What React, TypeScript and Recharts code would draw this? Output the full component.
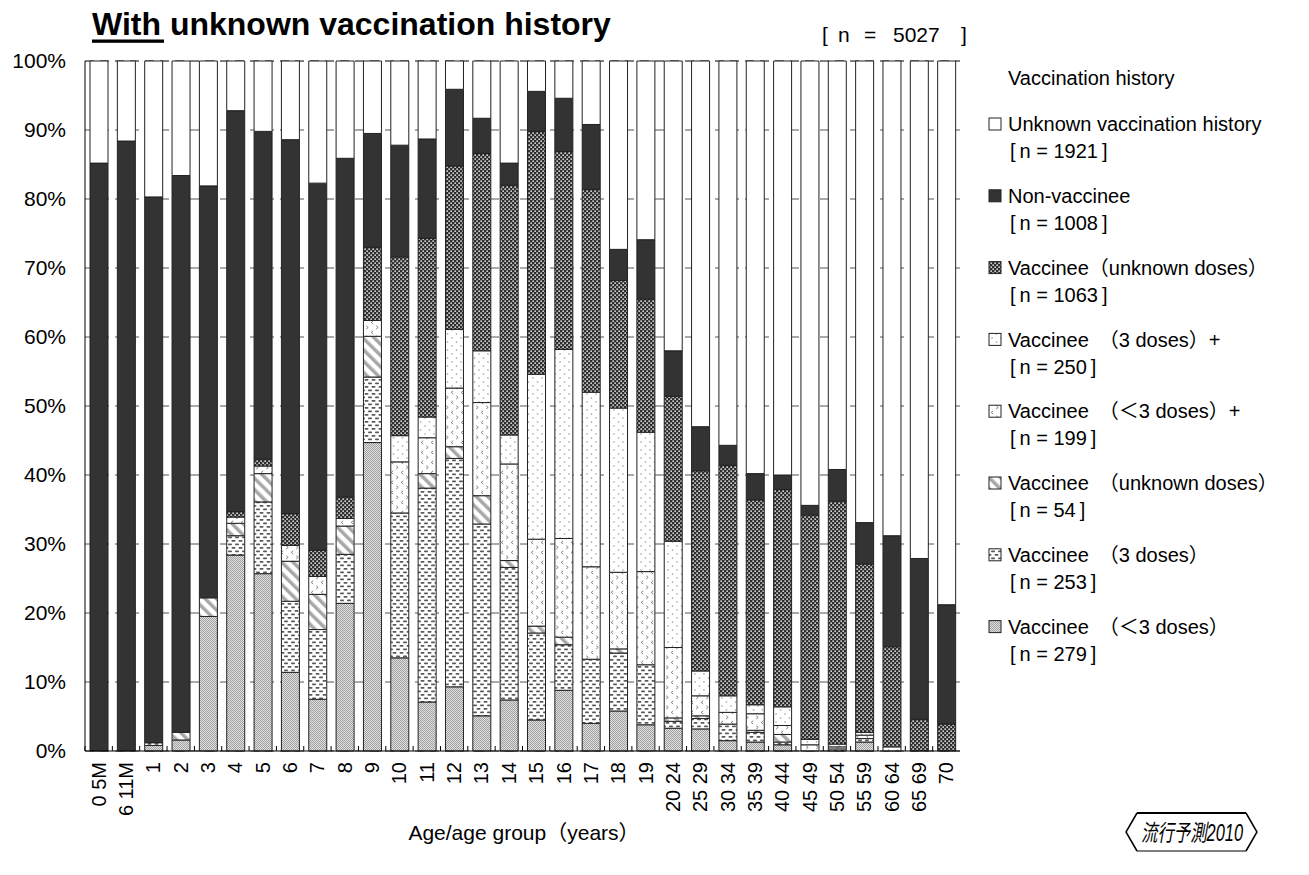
import React from 'react';
import { BarChart, Bar, XAxis, YAxis, CartesianGrid } from 'recharts';

const categories = ["0 5M","6 11M","1","2","3","4","5","6","7","8","9","10","11","12","13","14","15","16","17","18","19","20 24","25 29","30 34","35 39","40 44","45 49","50 54","55 59","60 64","65 69","70"];

// percentages, bottom of stack first
const vacLt3 =      [0,0,0.8,1.6,19.5,28.4,25.7,11.4,7.5,21.4,44.7,13.5,7.1,9.3,5.1,7.4,4.5,8.8,4.0,5.8,3.8,3.3,3.2,1.5,1.3,0.9,0,0,1.3,0,0,0];
const vac3 =        [0,0,0.4,0,0,2.8,10.4,10.3,10.1,7.1,9.5,21.0,31.0,33.1,27.8,19.2,12.6,6.6,9.3,8.4,8.7,1.0,1.5,2.4,1.4,0.4,0,0.3,0.5,0,0,0];
const vacUnkDoses = [0,0,0,1.1,2.7,1.8,4.1,5.8,5.1,4.1,5.9,0,2.1,1.7,4.1,1.0,1.0,1.1,0,0.6,0,0.5,0.4,0,0.3,1.1,0,0,0,0,0,0];
const vacLt3Plus =  [0,0,0,0,0,0.9,1.1,2.3,2.6,1.1,2.3,7.4,5.2,8.5,13.5,14.0,12.6,14.3,13.4,11.1,13.5,10.2,2.9,1.7,2.4,1.3,0.9,0.3,0.5,0,0,0];
const vac3Plus =    [0,0,0,0,0,0,0,0,0,0,0,3.8,3.0,8.5,7.5,4.2,23.9,27.4,25.3,23.8,20.2,15.4,3.6,2.4,1.3,2.7,0.8,0.4,0.4,0.6,0,0];
const vacUnknown =  [0,0,0,0,0,0.8,1.0,4.6,3.8,3.1,10.6,25.9,25.9,23.7,28.6,36.2,35.2,28.7,29.4,18.5,19.3,21.0,29.0,33.4,29.7,31.5,32.5,35.2,24.4,14.5,4.6,3.9];
const nonVaccinee = [85.2,88.4,79.1,80.7,59.7,58.1,47.5,54.2,53.2,49.1,16.5,16.2,14.4,11.1,5.1,3.2,5.8,7.7,9.4,4.5,8.6,6.6,6.4,2.9,3.8,2.1,1.4,4.6,6.0,16.1,23.3,17.3];
const unknownHist = [14.8,11.6,19.7,16.6,18.1,7.2,10.2,11.4,17.7,14.1,10.5,12.2,11.3,4.1,8.3,14.8,4.4,5.4,9.2,27.3,25.9,42.0,53.0,55.7,59.8,60.0,64.4,59.2,66.9,68.8,72.1,78.8];

const yTicks = [0,10,20,30,40,50,60,70,80,90,100];

const seriesNames = ["Vaccinee　（＜3 doses）","Vaccinee　（3 doses）","Vaccinee　（unknown doses）","Vaccinee　（＜3 doses）+","Vaccinee　（3 doses）+","Vaccinee（unknown doses）","Non-vaccinee","Unknown vaccination history"];
const seriesCounts = ["279","253","54","199","250","1063","1008","1921"];
const seriesKeys = ["lt3","d3","unkD","lt3p","d3p","vunk","non","unk"];
const seriesValues = [vacLt3, vac3, vacUnkDoses, vacLt3Plus, vac3Plus, vacUnknown, nonVaccinee, unknownHist];
const seriesFills = ["url(#pLt3)","url(#pD3)","url(#pUnkD)","url(#pLt3p)","url(#pD3p)","url(#pChk)","#333333","#ffffff"];

const FONT = "'Liberation Sans', Arial, 'Noto Sans CJK JP', sans-serif";
const W = 1309, H = 875;
const PLOT_TOP = 61, PLOT_BOTTOM = 751, PLOT_RIGHT = 960, PLOT_LEFT = 85;

const XTick = (props: any) => {
  const { x, y, payload } = props;
  const off = payload && typeof payload.offset === 'number' ? payload.offset : 13.67;
  const axisY = y - 11;
  return (
    <g>
      <line x1={x - off} x2={x - off} y1={axisY} y2={axisY - 5} stroke="#000" strokeWidth={1} />
      <text x={x} y={y} transform={`rotate(-90 ${x} ${y})`} textAnchor="end" dominantBaseline="central"
        fontSize={20} fontFamily={FONT} fill="#000">{payload.value}</text>
    </g>
  );
};

export default function App() {
  const data = categories.map((c, i) => {
    const row: any = { cat: c };
    seriesKeys.forEach((k, j) => { row[k] = seriesValues[j][i]; });
    return row;
  });

  const legendOrder = [7, 6, 5, 4, 3, 2, 1, 0];

  return (
    <div style={{ position: 'absolute', left: 0, top: 0, width: W, height: H, background: '#fff' }}>
      <BarChart width={W} height={H} data={data} barSize={18}
        margin={{ top: PLOT_TOP, right: W - PLOT_RIGHT, bottom: 0, left: 0 }}>
        <defs>
          <pattern id="pLt3" width="2" height="2" patternUnits="userSpaceOnUse">
            <rect width="2" height="2" fill="#e0e0e0" />
            <rect width="1" height="1" fill="#a0a0a0" />
            <rect x="1" y="1" width="1" height="1" fill="#a0a0a0" />
          </pattern>
          <pattern id="pD3" width="7" height="7" patternUnits="userSpaceOnUse">
            <rect width="7" height="7" fill="#fff" />
            <rect x="0.5" y="1" width="4" height="1.7" rx="0.8" fill="#5a5a5a" />
            <rect x="4" y="4.5" width="4" height="1.7" rx="0.8" fill="#5a5a5a" />
            <rect x="-3" y="4.5" width="4" height="1.7" rx="0.8" fill="#5a5a5a" />
          </pattern>
          <pattern id="pUnkD" width="8" height="8" patternUnits="userSpaceOnUse" patternTransform="rotate(-45)">
            <rect width="8" height="8" fill="#fff" />
            <rect width="3.5" height="8" fill="#a8a8a8" />
          </pattern>
          <pattern id="pLt3p" width="10" height="10" patternUnits="userSpaceOnUse">
            <rect width="10" height="10" fill="#fff" />
            <path d="M3.2 0.8 L1.2 2.4 L3.2 4" stroke="#808080" strokeWidth="1" fill="none" />
            <path d="M6.2 5.8 L8.2 7.4 L6.2 9" stroke="#808080" strokeWidth="1" fill="none" />
          </pattern>
          <pattern id="pD3p" width="9" height="8" patternUnits="userSpaceOnUse">
            <rect width="9" height="8" fill="#fff" />
            <circle cx="2" cy="2" r="0.8" fill="#9a9a9a" />
            <circle cx="6.5" cy="6" r="0.8" fill="#9a9a9a" />
          </pattern>
          <pattern id="pChk" width="4" height="4" patternUnits="userSpaceOnUse">
            <rect width="4" height="4" fill="#2e2e2e" />
            <rect x="0.4" y="0.4" width="1.5" height="1.5" fill="#f0f0f0" />
            <rect x="2.4" y="2.4" width="1.5" height="1.5" fill="#f0f0f0" />
          </pattern>
        </defs>
        <CartesianGrid vertical={false} strokeDasharray="9 6" stroke="#555" />
        <XAxis dataKey="cat" height={H - PLOT_BOTTOM} interval={0} tickLine={false} tickSize={0} tickMargin={11}
          axisLine={{ stroke: '#000' }} tick={<XTick />} />
        <XAxis xAxisId="top" dataKey="cat" orientation="top" height={0} tick={false} tickLine={false}
          axisLine={{ stroke: '#000' }} />
        <YAxis width={PLOT_LEFT} domain={[0, 100]} ticks={yTicks} interval={0} tickLine={false} tickSize={6} tickMargin={13}
          axisLine={{ stroke: '#000' }} tickFormatter={(v: number) => `${v}%`}
          tick={{ fontSize: 21, fill: '#000', fontFamily: FONT }} />
        <YAxis yAxisId="right" orientation="right" width={0} domain={[0, 100]} tick={false} tickLine={false}
          axisLine={{ stroke: '#000' }} />
        {seriesKeys.map((k, j) => (
          <Bar key={k} dataKey={k} name={seriesNames[j]} stackId="s" fill={seriesFills[j]}
            stroke="#222" strokeWidth={1} isAnimationActive={false} />
        ))}
      </BarChart>
      <svg width={W} height={H} style={{ position: 'absolute', left: 0, top: 0, pointerEvents: 'none' }}>
        <text x={92} y={35} fontSize={32} fontWeight="bold" fontFamily={FONT} fill="#000">With unknown vaccination history</text>
        <rect x={92} y={39.5} width={72} height={3.3} fill="#000" />
        <text y={42} fontSize={21} fontFamily={FONT} fill="#000">
          <tspan x={822}>[</tspan>
          <tspan x={838}>n</tspan>
          <tspan x={864}>=</tspan>
          <tspan x={893}>5027</tspan>
          <tspan x={961}>]</tspan>
        </text>

        <text x={1008} y={84.5} fontSize={20} fontFamily={FONT} fill="#000">Vaccination history</text>
        {legendOrder.map((j, i) => {
          const cy = 124 + i * 71.8;
          return (
            <g key={j}>
              <rect x={989} y={cy - 6} width={12} height={12} fill={seriesFills[j]} stroke="#222" strokeWidth={1} />
              <text x={1008} y={cy + 7.2} fontSize={20} fontFamily={FONT} fill="#000">{seriesNames[j]}</text>
              <text x={1010} y={cy + 34.2} fontSize={20} fontFamily={FONT} fill="#000">{`[\u2009n = ${seriesCounts[j]}\u2009]`}</text>
            </g>
          );
        })}

        <text x={524} y={840} fontSize={21} fontFamily={FONT} fill="#000" textAnchor="middle">Age/age group（years）</text>

        <polyline points="1137,813 1126,832 1137,851" fill="none" stroke="#000" strokeWidth={1.5} />
        <polyline points="1246,813 1257,832 1246,851" fill="none" stroke="#000" strokeWidth={1.5} />
        <line x1={1137} y1={813} x2={1246} y2={813} stroke="#000" strokeWidth={2} />
        <line x1={1137} y1={851} x2={1246} y2={851} stroke="#000" strokeWidth={1} />
        <text x={1141} y={841} fontSize={23} fontStyle="italic" fontFamily={FONT} fill="#000"
          textLength={102} lengthAdjust="spacingAndGlyphs">流行予測2010</text>
      </svg>
    </div>
  );
}
